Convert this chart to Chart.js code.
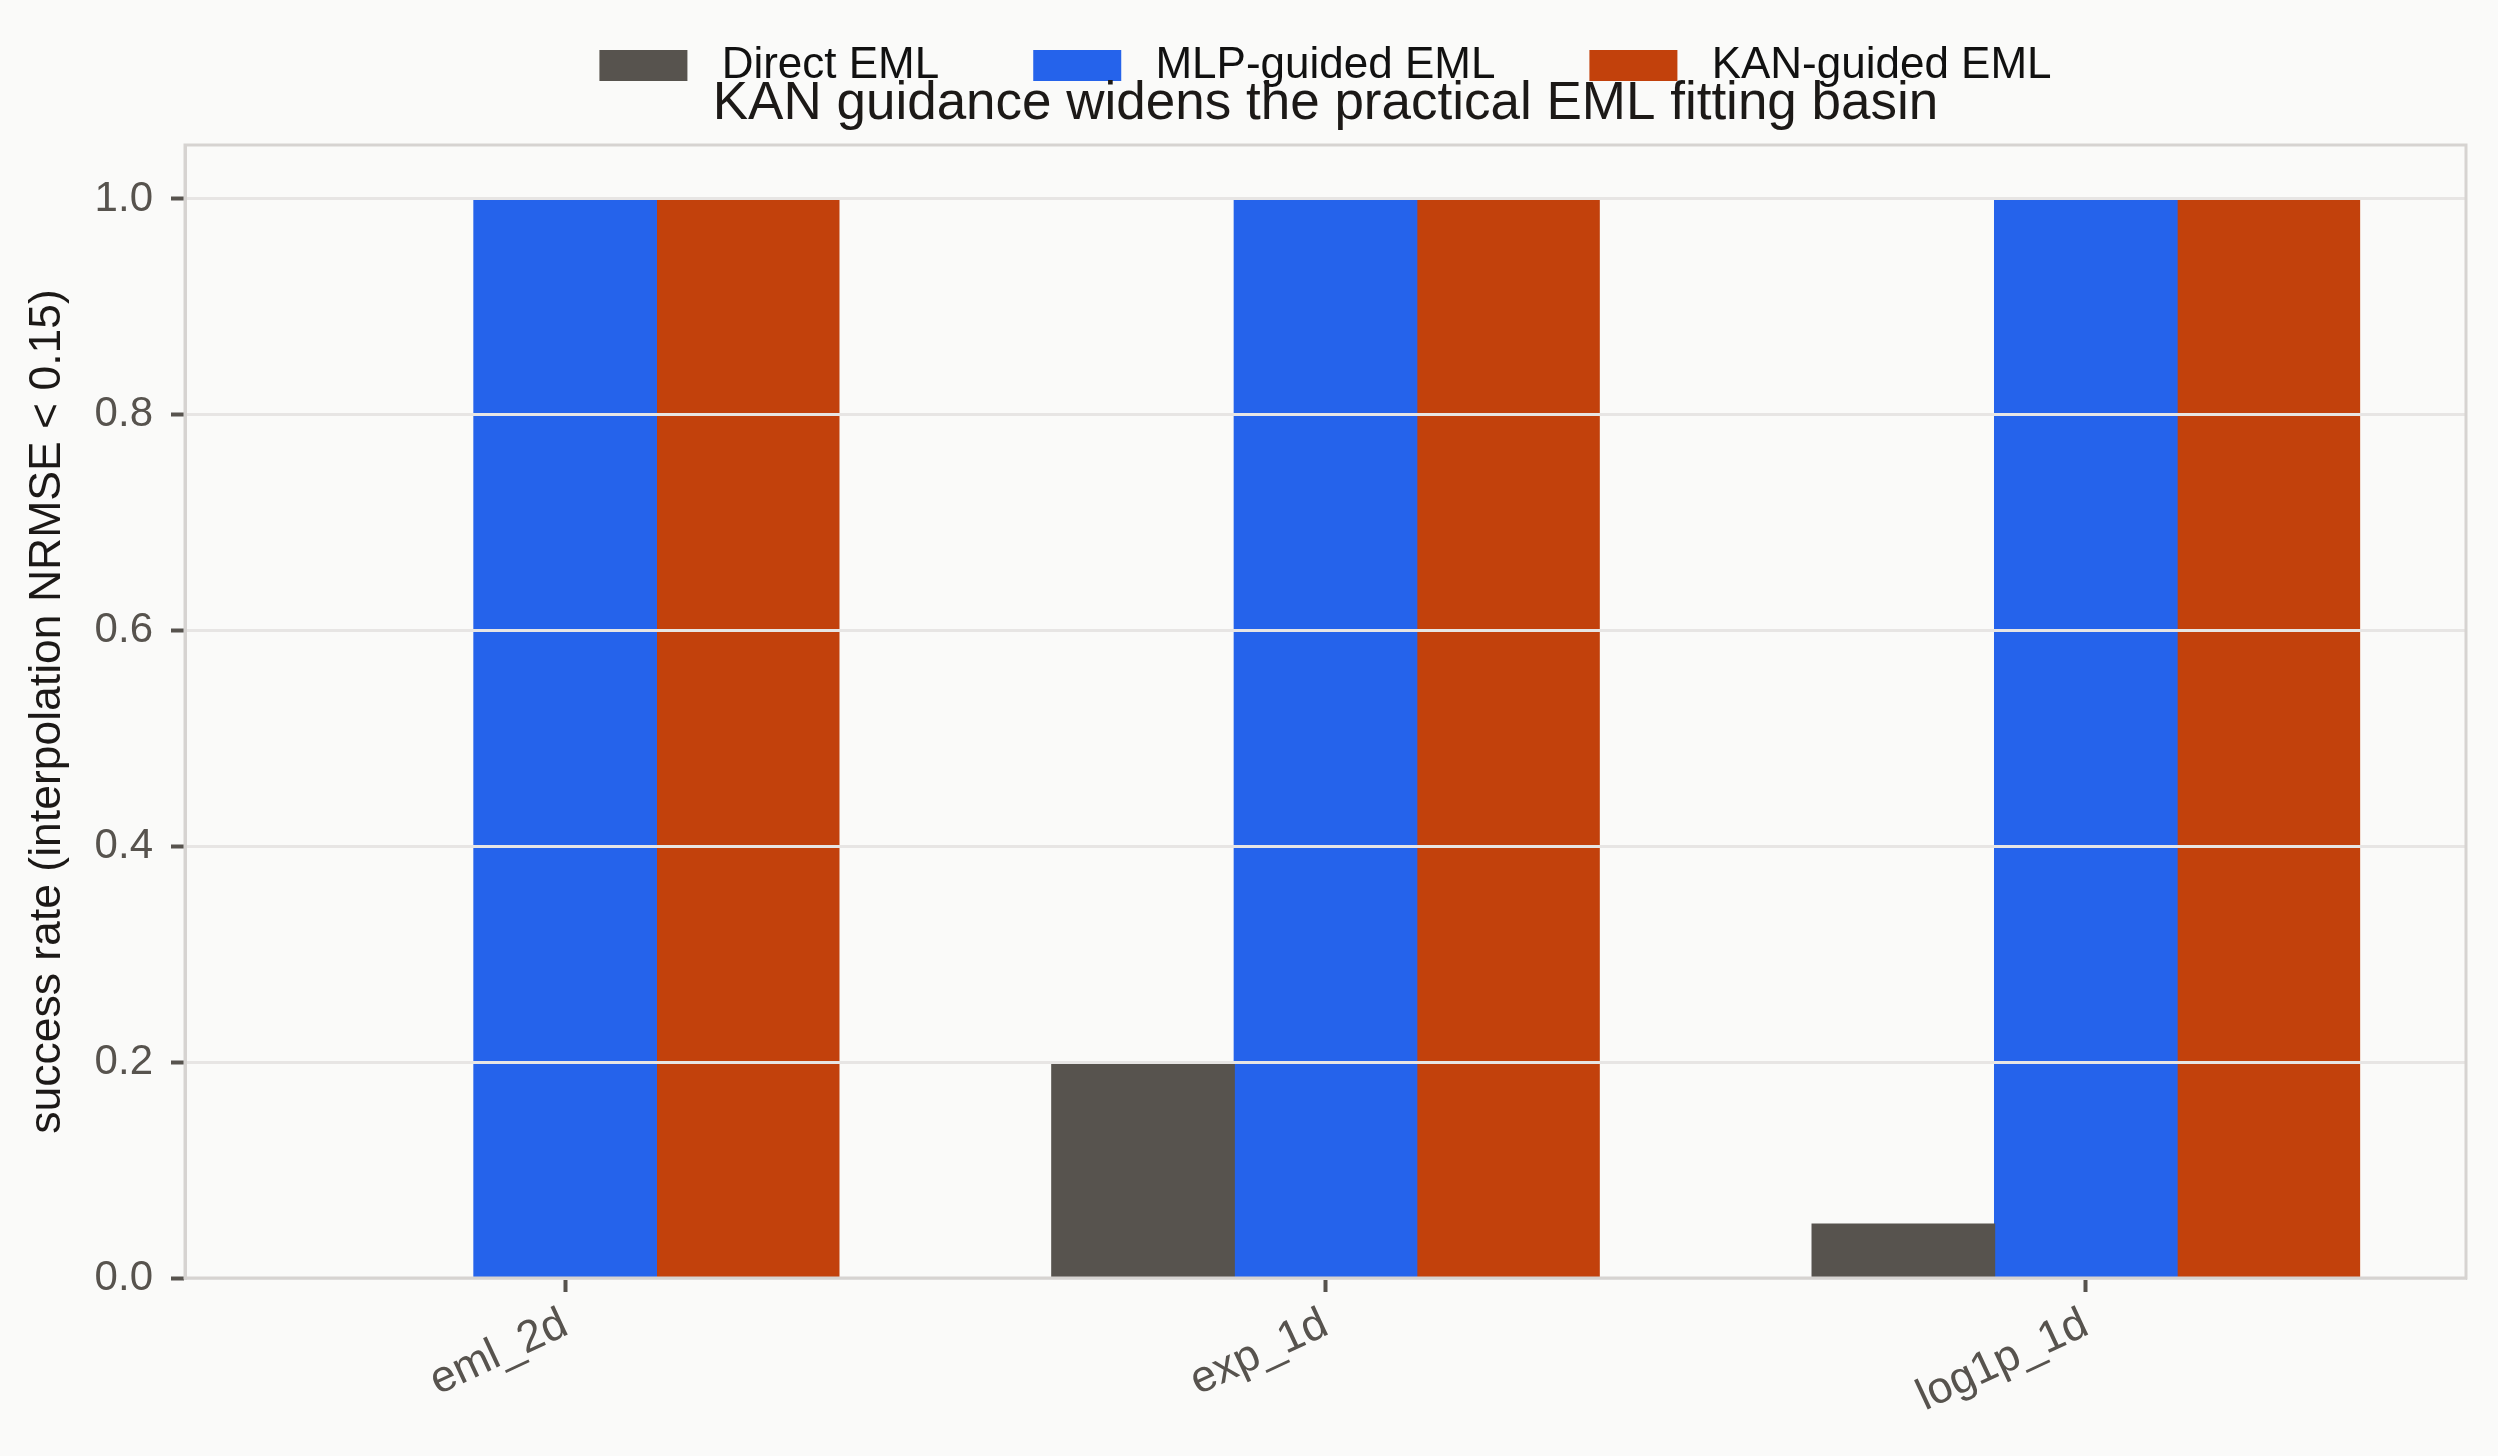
<!DOCTYPE html>
<html lang="en">
<head>
  <meta charset="UTF-8" />
  <title>KAN guidance widens the practical EML fitting basin</title>
  <script src="https://cdn.jsdelivr.net/npm/chart.js"></script>
  <style>
    html, body {
      margin: 0;
      padding: 0;
      background: #fafaf9;
      overflow: hidden;
    }
    canvas {
      display: block;
      background: #fafaf9;
    }
  </style>
</head>
<body>
  <canvas id="basinChart" width="2498" height="1456"></canvas>

  <script>
    // data
    const categories = ['eml_2d', 'exp_1d', 'log1p_1d'];
    const directEml = [0, 0.2, 0.05];
    const mlpGuidedEml = [1, 1, 1];
    const kanGuidedEml = [1, 1, 1];
    const seriesNames = ['Direct EML', 'MLP-guided EML', 'KAN-guided EML'];
    const seriesColors = ['#57534e', '#2563eb', '#c2410c'];

    const TICK_GREY = '#57534e';
    const FRAME_GREY = '#d6d3d1';
    const GRID_GREY = '#e7e5e4';

    Chart.defaults.font.family = "'Liberation Sans', Arial, sans-serif";

    // light frame round the plot area (top and right spines)
    const framePlugin = {
      id: 'frame',
      afterDraw(chart) {
        const { ctx, chartArea: a } = chart;
        ctx.save();
        ctx.strokeStyle = FRAME_GREY;
        ctx.lineWidth = 3;
        ctx.strokeRect(a.left, a.top, a.right - a.left, a.bottom - a.top);
        ctx.restore();
      }
    };

    const ctx = document.getElementById('basinChart').getContext('2d');

    new Chart(ctx, {
      type: 'bar',
      data: {
        labels: categories,
        datasets: [
          { label: seriesNames[0], data: directEml, backgroundColor: seriesColors[0], borderWidth: 0 },
          { label: seriesNames[1], data: mlpGuidedEml, backgroundColor: seriesColors[1], borderWidth: 0 },
          { label: seriesNames[2], data: kanGuidedEml, backgroundColor: seriesColors[2], borderWidth: 0 }
        ]
      },
      options: {
        responsive: false,
        animation: false,
        devicePixelRatio: 1,
        categoryPercentage: 0.72,
        barPercentage: 1.0,
        inflateAmount: 0.6,
        layout: {
          padding: { top: -50.5, left: 0, right: 32, bottom: 0 }
        },
        plugins: {
          legend: {
            position: 'top',
            fullSize: false,
            weight: 3000,
            labels: {
              boxWidth: 88,
              boxHeight: 31,
              padding: 94,
              color: '#111111',
              font: { size: 44 },
              generateLabels(chart) {
                const items = Chart.defaults.plugins.legend.labels.generateLabels(chart);
                return items.map(it => ({ ...it, text: ' ' + it.text, lineWidth: 0 }));
              }
            }
          },
          title: {
            display: true,
            text: 'KAN guidance widens the practical EML fitting basin',
            fullSize: false,
            weight: 500,
            color: '#1c1917',
            font: { size: 53, weight: 'normal' },
            padding: { top: -24.7, bottom: 8.6 }
          },
          tooltip: { enabled: false }
        },
        scales: {
          x: {
            offset: true,
            afterFit(scale) { scale.height = 178; },
            grid: {
              offset: false,
              drawOnChartArea: false,
              drawTicks: true,
              tickLength: 14,
              tickWidth: 4,
              tickColor: TICK_GREY
            },
            border: { color: FRAME_GREY, width: 3 },
            ticks: {
              color: TICK_GREY,
              font: { size: 44.5 },
              minRotation: 25,
              maxRotation: 25,
              autoSkip: false,
              padding: 6
            }
          },
          y: {
            min: 0,
            max: 1.05,
            afterFit(scale) { scale.width = 185; },
            grid: {
              z: 1,
              color: GRID_GREY,
              lineWidth: 3,
              drawTicks: true,
              tickLength: 14,
              tickWidth: 4,
              tickColor: TICK_GREY
            },
            border: { z: 1, color: FRAME_GREY, width: 3 },
            ticks: {
              stepSize: 0.2,
              includeBounds: false,
              color: TICK_GREY,
              font: { size: 42 },
              padding: 18,
              callback: v => Number(v).toFixed(1)
            },
            title: {
              display: true,
              text: 'success rate (interpolation NRMSE < 0.15)',
              color: '#1c1917',
              font: { size: 44.5 },
              padding: { top: 21.3, bottom: 10 }
            }
          }
        }
      },
      plugins: [framePlugin]
    });
  </script>
</body>
</html>
